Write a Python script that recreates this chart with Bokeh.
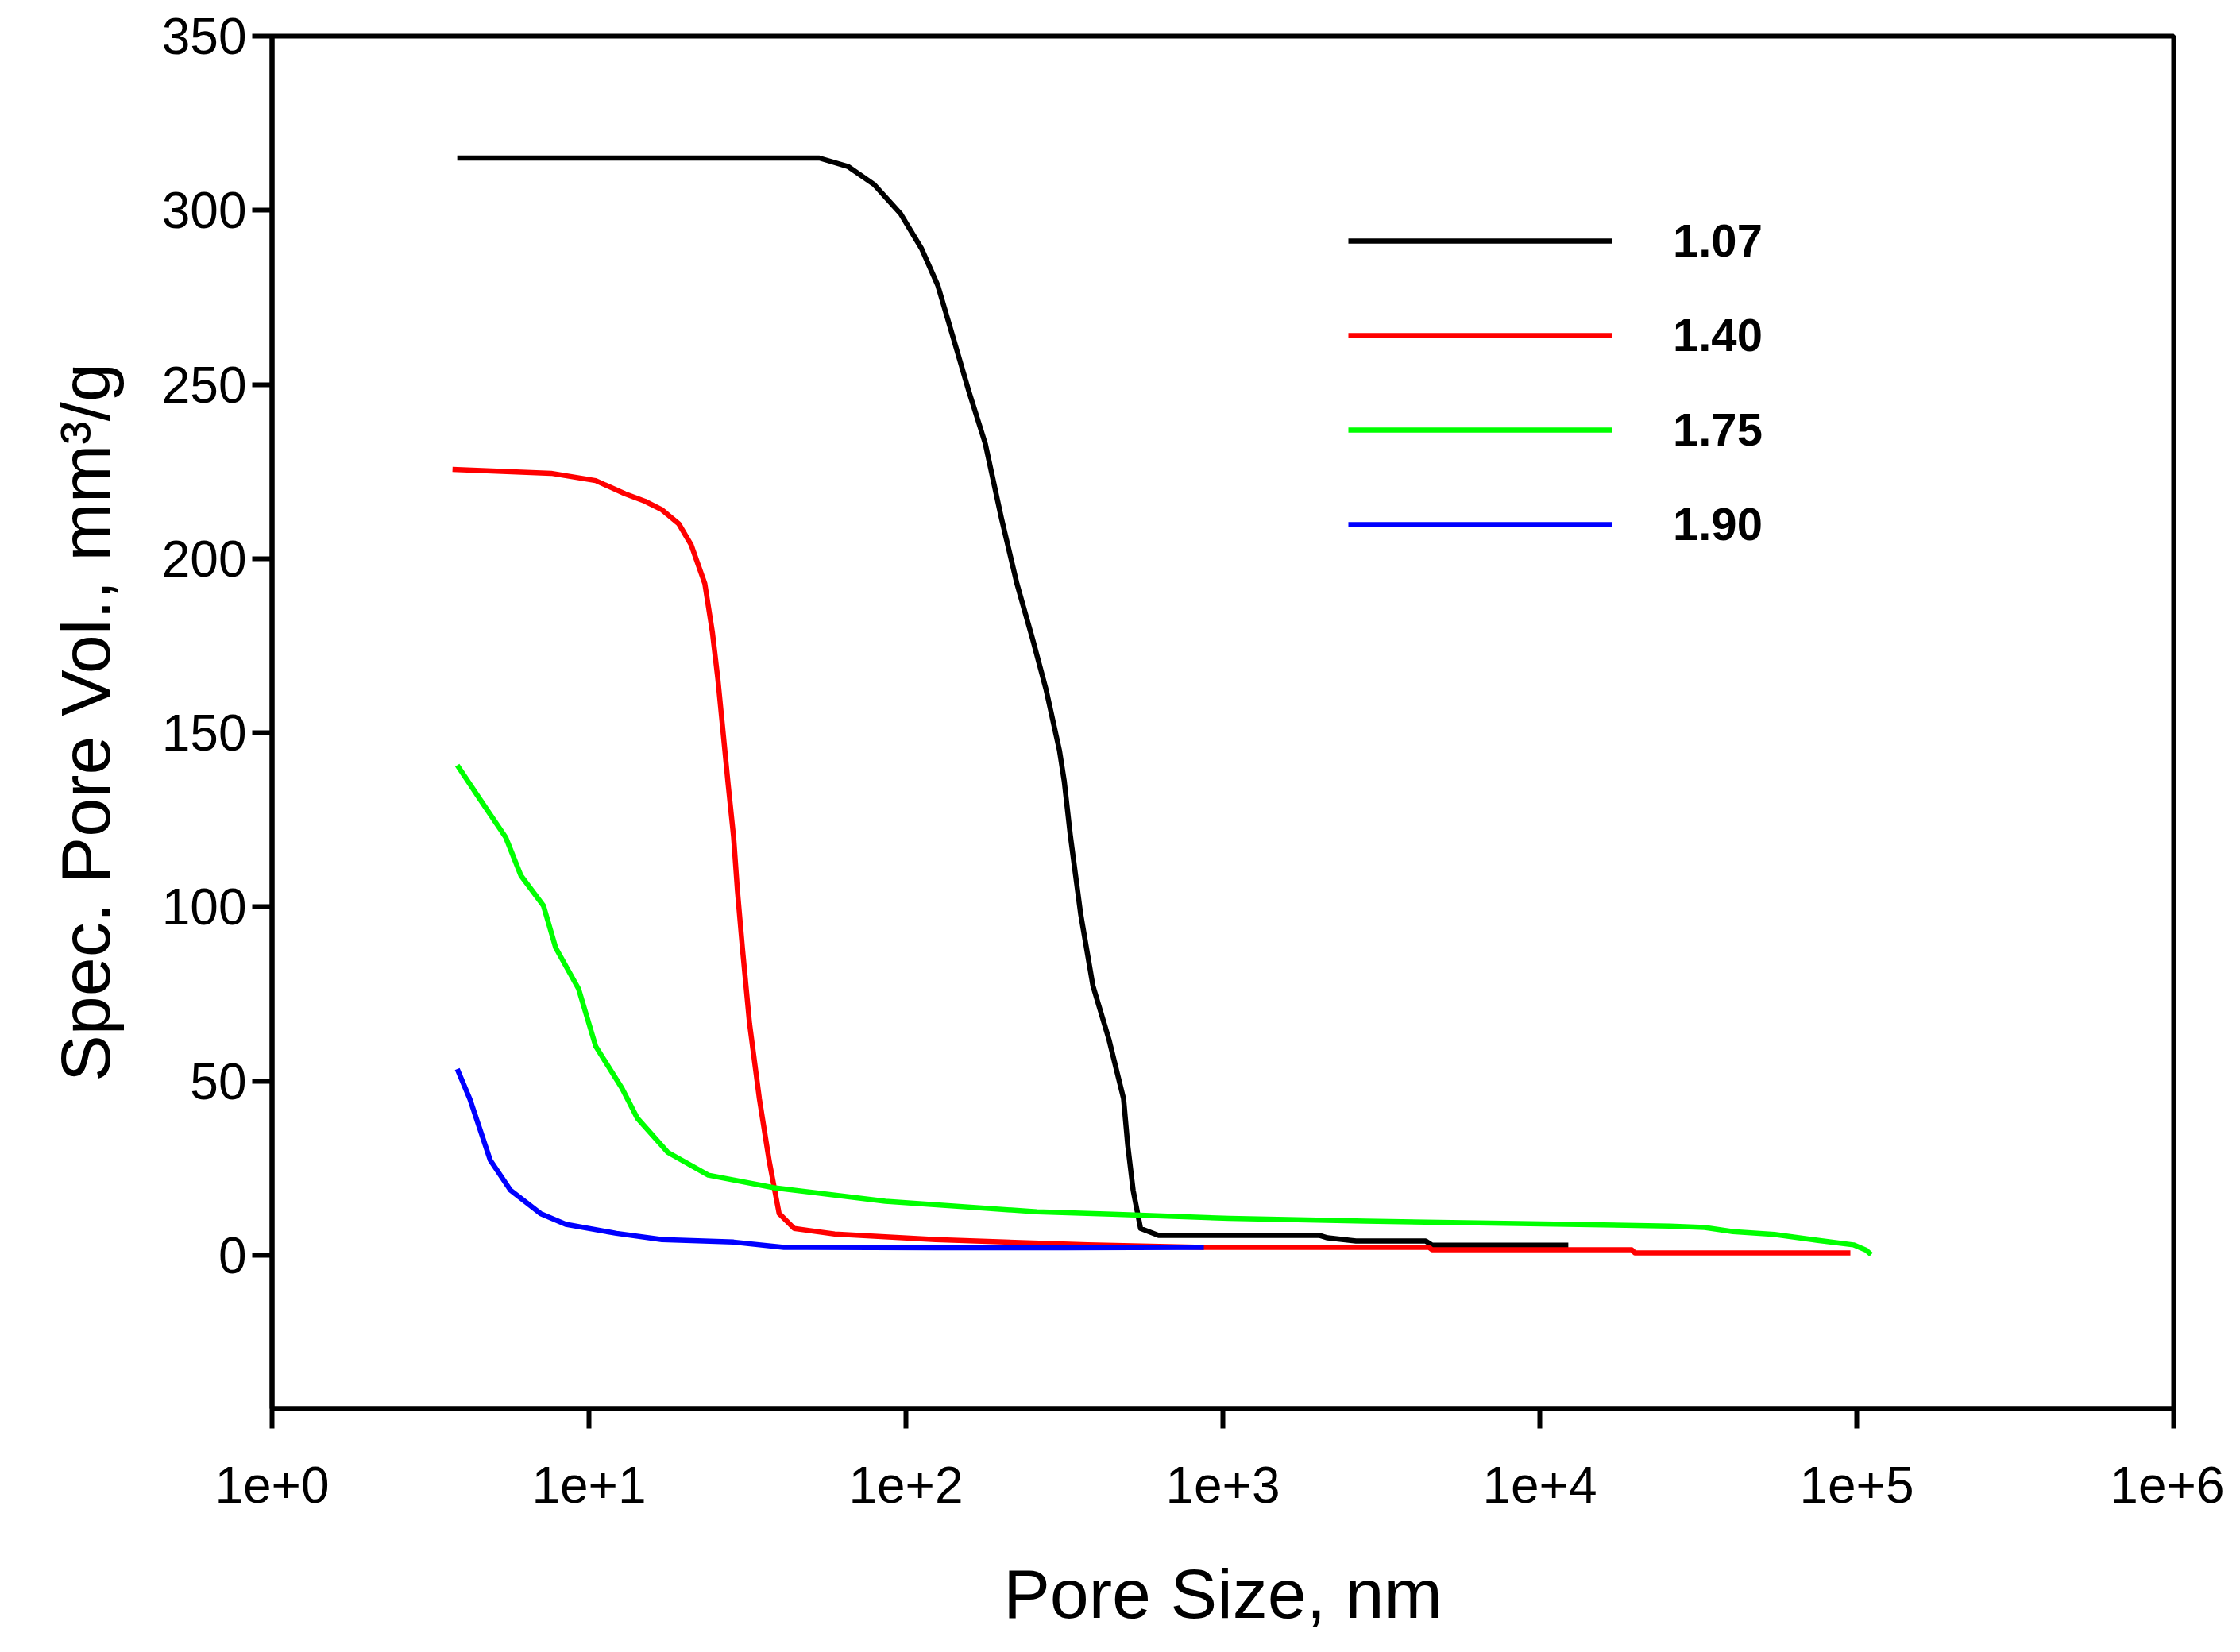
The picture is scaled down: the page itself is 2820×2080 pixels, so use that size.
from bokeh.plotting import figure
from bokeh.models import Range1d, FixedTicker, Legend, LegendItem
from bokeh.embed import file_html
from bokeh.resources import INLINE

# ---- data (pore size in nm, specific pore volume in mm^3/g) ----
size_107 = [3.84, 10, 31.6, 53.3, 65.6, 79.4, 96.2, 112, 126, 141, 158, 178, 200, 224,
            251, 277, 305, 316, 330, 356, 389, 437, 486, 501, 521, 550, 627, 1000, 2023,
            2140, 2630, 4365, 4571, 12300]
vol_107 = [315, 315, 315, 315, 312.6, 307.4, 299, 289, 278.5, 263.4, 248, 233, 211.7, 192.8,
           176.9, 162.3, 145, 136, 120.7, 97.9, 77.4, 62, 45, 31.6, 18.7, 7.7, 5.7, 5.7, 5.7,
           5.0, 4.1, 4.1, 2.9, 2.9]

size_140 = [3.71, 7.59, 10.5, 13.0, 15.0, 17.0, 19.2, 21.0, 23.2, 24.5, 25.5, 26.5, 27.5,
            28.6, 29.4, 30.5, 32.1, 34.5, 37.0, 39.8, 44.4, 59.6, 124, 375, 871, 4467, 4571,
            19500, 19950, 95500]
vol_140 = [225.6, 224.5, 222.4, 218.6, 216.5, 214, 210, 204, 192.8, 179, 165.5, 150, 135,
           120, 104.7, 88, 66.6, 44.8, 27.3, 12, 7.7, 6.1, 4.5, 3.0, 2.3, 2.3, 1.6, 1.6, 0.7,
           0.7]

size_175 = [3.84, 4.53, 5.46, 6.10, 7.18, 7.85, 9.27, 10.5, 12.7, 14.2, 17.7, 23.8, 38.4,
            86.1, 259, 447, 1047, 2818, 8511, 15850, 25700, 33100, 40700, 55000, 72400,
            97700, 107000, 111000]
vol_175 = [140.7, 130.9, 120, 109, 100.4, 88.3, 76.5, 60, 48, 39.4, 29.6, 23, 19.4, 15.5,
           12.5, 11.8, 10.6, 9.8, 9.1, 8.7, 8.4, 8.0, 6.8, 6.0, 4.5, 3.0, 1.5, 0.2]

size_190 = [3.84, 4.21, 4.88, 5.65, 7.03, 8.45, 12.2, 17.0, 28.6, 41.2, 124, 316, 871]
vol_190 = [53.5, 44.8, 27.3, 18.7, 12, 8.9, 6.3, 4.5, 3.8, 2.3, 2.2, 2.2, 2.3]

series_labels = ["1.07", "1.40", "1.75", "1.90"]
series_colors = ["#000000", "#ff0000", "#00ff00", "#0000ff"]
series_sizes = [size_107, size_140, size_175, size_190]
series_vols = [vol_107, vol_140, vol_175, vol_190]

x_tick_values = [1, 10, 100, 1000, 10000, 100000, 1000000]
x_tick_labels = ["1e+0", "1e+1", "1e+2", "1e+3", "1e+4", "1e+5", "1e+6"]
y_tick_values = [0, 50, 100, 150, 200, 250, 300, 350]

FONT = "Liberation Sans"

p = figure(width=2800, height=2064, x_axis_type="log",
           x_range=Range1d(1, 1e6), y_range=Range1d(-44, 350),
           output_backend="svg", toolbar_location=None,
           min_border_left=342, min_border_right=64,
           min_border_top=45, min_border_bottom=291)

p.grid.visible = False
p.background_fill_color = "white"
p.border_fill_color = "white"
p.outline_line_color = "black"
p.outline_line_width = 6
p.outline_line_alpha = 1

renderers = []
for xs, ys, c in zip(series_sizes, series_vols, series_colors):
    r = p.line(xs, ys, line_color=c, line_width=6.5, line_join="round")
    renderers.append(r)

# axes
p.xaxis.ticker = FixedTicker(ticks=x_tick_values, minor_ticks=[])
p.xaxis.major_label_overrides = {v: l for v, l in zip(x_tick_values, x_tick_labels)}
p.yaxis.ticker = FixedTicker(ticks=y_tick_values, minor_ticks=[])

for ax in (p.xaxis[0], p.yaxis[0]):
    ax.axis_line_color = "black"
    ax.axis_line_width = 6
    ax.major_tick_line_color = "black"
    ax.major_tick_line_width = 6
    ax.major_tick_out = 25
    ax.major_tick_in = 0
    ax.minor_tick_line_color = None
    ax.major_label_text_font = FONT
    ax.major_label_text_font_size = "64px"
    ax.major_label_text_color = "black"
    ax.axis_label_text_font = FONT
    ax.axis_label_text_font_size = "88px"
    ax.axis_label_text_font_style = "normal"
    ax.axis_label_text_color = "black"

p.xaxis.axis_label = "Pore Size, nm"
p.xaxis.major_label_standoff = 48
p.xaxis.axis_label_standoff = 62
p.yaxis.axis_label = "Spec. Pore Vol., mm³/g"
p.yaxis.major_label_standoff = 7
p.yaxis.axis_label_standoff = 44

legend = Legend(
    items=[LegendItem(label=lab, renderers=[r]) for lab, r in zip(series_labels, renderers)],
    location=(1355, 1080),
    label_text_font=FONT,
    label_text_font_size="58px",
    label_text_font_style="bold",
    label_text_color="black",
    glyph_width=333, glyph_height=60, label_height=60,
    spacing=52, label_standoff=76,
    padding=0, margin=0,
    border_line_alpha=0, background_fill_alpha=0,
)
p.add_layout(legend)

open("out.html", "w").write(file_html(p, INLINE))
